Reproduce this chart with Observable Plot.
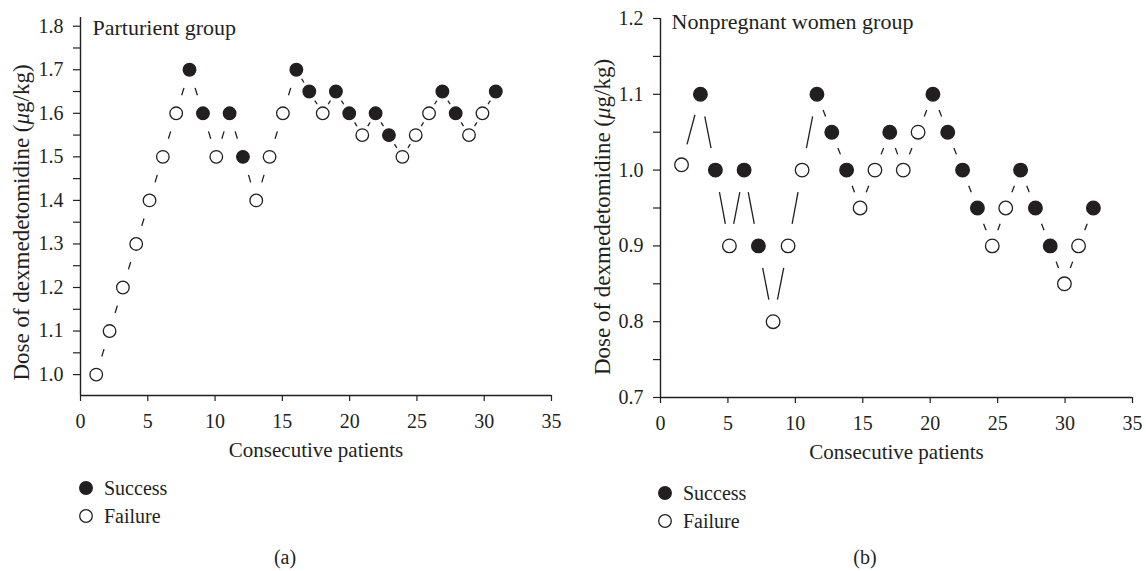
<!DOCTYPE html>
<html>
<head>
<meta charset="utf-8">
<script src="https://cdn.jsdelivr.net/npm/d3@7"></script>
<script src="https://cdn.jsdelivr.net/npm/@observablehq/plot@0.6"></script>
<style>
  html, body { margin: 0; padding: 0; background: #fff; }
  body { font-family: "Liberation Serif", "DejaVu Serif", serif; color: #231f20; }
  #wrap { position: relative; width: 1146px; height: 571px; overflow: hidden; background: #fff; }
  .panel { position: absolute; top: 0; }
  .legend { position: absolute; font-size: 20px; line-height: 28px; }
  .legend .row { display: flex; align-items: center; height: 28px; }
  .legend svg { margin-right: 10px; }
  .caption { position: absolute; font-size: 20px; transform: translateX(-50%); }
</style>
</head>
<body>
<div id="wrap"></div>
<script>
// ---------- Data: (a) Parturient group ----------
const patientsA = [1.17, 2.16, 3.15, 4.14, 5.13, 6.12, 7.11, 8.1, 9.1, 10.09, 11.08, 12.07, 13.06, 14.05, 15.04, 16.04,
  17.0, 18.0, 18.98, 19.97, 20.94, 21.93, 22.92, 23.92, 24.91, 25.9, 26.89, 27.88, 28.87, 29.87, 30.86];
const doseA = [1.0, 1.1, 1.2, 1.3, 1.4, 1.5, 1.6, 1.7, 1.6, 1.5, 1.6, 1.5, 1.4, 1.5, 1.6, 1.7,
  1.65, 1.6, 1.65, 1.6, 1.55, 1.6, 1.55, 1.5, 1.55, 1.6, 1.65, 1.6, 1.55, 1.6, 1.65];
const outcomeA = ["F","F","F","F","F","F","F","S","S","F","S","S","F","F","F","S",
  "S","F","S","S","F","S","S","F","F","F","S","S","F","F","S"];

// ---------- Data: (b) Nonpregnant women group ----------
const patientsB = [1.56, 2.96, 4.07, 5.11, 6.2, 7.26, 8.35, 9.46, 10.5, 11.6, 12.7, 13.8, 14.8, 15.9, 17.0,
  18.0, 19.1, 20.2, 21.3, 22.4, 23.5, 24.6, 25.6, 26.7, 27.8, 28.9, 29.95, 31.0, 32.1];
const doseB = [1.007, 1.1, 1.0, 0.9, 1.0, 0.9, 0.8, 0.9, 1.0, 1.1, 1.05, 1.0, 0.95, 1.0, 1.05,
  1.0, 1.05, 1.1, 1.05, 1.0, 0.95, 0.9, 0.95, 1.0, 0.95, 0.9, 0.85, 0.9, 0.95];
const outcomeB = ["F","S","S","F","S","S","F","F","F","S","S","S","F","F","S",
  "F","F","S","S","S","S","F","F","S","S","S","F","F","S"];

// ---------- Tick labels ----------
const xTicks = [0, 5, 10, 15, 20, 25, 30, 35];
const yTicksA = [1.0, 1.1, 1.2, 1.3, 1.4, 1.5, 1.6, 1.7, 1.8];
const yMinorA = [1.05, 1.15, 1.25, 1.35, 1.45, 1.55, 1.65, 1.75];
const yTicksB = [0.7, 0.8, 0.9, 1.0, 1.1, 1.2];
const yMinorB = [0.75, 0.85, 0.95, 1.05, 1.15];

// ---------- Texts ----------
const titleA = "Parturient group";
const titleB = "Nonpregnant women group";
const xLabel = "Consecutive patients";
const yLabel = "Dose of dexmedetomidine (μg/kg)";
const legendLabels = ["Success", "Failure"];
const captions = ["(a)", "(b)"];

const INK = "#231f20";

function rowsOf(xs, ys, os) {
  return xs.map((x, i) => ({ x, y: ys[i], outcome: os[i] }));
}
// connector segments: only the middle part of each segment is drawn
function linksOf(xs, ys, fracFn) {
  const out = [];
  for (let i = 0; i < xs.length - 1; i++) {
    const dx = xs[i + 1] - xs[i], dy = ys[i + 1] - ys[i];
    const f = fracFn(Math.abs(dy));
    const t0 = (1 - f) / 2, t1 = (1 + f) / 2;
    out.push({ x1: xs[i] + t0 * dx, y1: ys[i] + t0 * dy, x2: xs[i] + t1 * dx, y2: ys[i] + t1 * dy });
  }
  return out;
}

function italicMu(svg) {
  svg.querySelectorAll("text").forEach(t => {
    if (t.textContent === yLabel) {
      const parts = yLabel.split("μ");
      t.textContent = "";
      const NS = "http://www.w3.org/2000/svg";
      const a = document.createElementNS(NS, "tspan");
      a.textContent = parts[0];
      const m = document.createElementNS(NS, "tspan");
      m.textContent = "μ"; m.setAttribute("font-style", "italic");
      const b = document.createElementNS(NS, "tspan");
      b.textContent = parts[1];
      t.append(a, m, b);
    }
  });
}

function panel(cfg) {
  const rows = rowsOf(cfg.xs, cfg.ys, cfg.os);
  const links = linksOf(cfg.xs, cfg.ys, cfg.frac);
  const chart = Plot.plot({
    width: cfg.width, height: 470,
    marginLeft: cfg.ml, marginRight: cfg.mr, marginTop: cfg.mt, marginBottom: 470 - cfg.axisY,
    style: { fontFamily: "Liberation Serif, serif", fontSize: "20px", color: INK, background: "white", overflow: "visible" },
    x: { domain: [0, 35] },
    y: { domain: cfg.ydomain },
    marks: [
      Plot.axisX({ ticks: xTicks, tickSize: 6, tickPadding: 12, label: null, fontSize: 20, stroke: INK, strokeWidth: 1.2, fill: INK }),
      Plot.axisY({ ticks: cfg.yt, tickSize: 7, tickPadding: 10, tickFormat: ".1f", label: null, fontSize: 20, stroke: INK, strokeWidth: 1.2, fill: INK }),
      Plot.axisY({ ticks: cfg.ym, tickSize: 7, text: null, label: null, stroke: INK, strokeWidth: 1.2 }),
      Plot.ruleX([0], { stroke: INK, strokeWidth: 1.4 }),
      Plot.ruleY([cfg.ydomain[0]], { stroke: INK, strokeWidth: 1.4 }),
      Plot.link(links, { x1: "x1", y1: "y1", x2: "x2", y2: "y2", stroke: INK, strokeWidth: cfg.lw }),
      Plot.dot(rows, { x: "x", y: "y", r: cfg.r, fill: d => d.outcome === "S" ? INK : "white", stroke: INK, strokeWidth: 1.3 }),
      Plot.text([cfg.title], { frameAnchor: "top-left", textAnchor: "start", lineAnchor: "top", dx: cfg.tdx, dy: cfg.tdy, fontSize: 22, fill: INK }),
      Plot.text([xLabel], { frameAnchor: "bottom", lineAnchor: "bottom", dy: 61, fontSize: 21, fill: INK }),
      Plot.text([yLabel], { frameAnchor: "left", textAnchor: "middle", lineAnchor: "middle", rotate: -90, dx: cfg.ylx, dy: cfg.yly, fontSize: 23, fill: INK })
    ]
  });
  italicMu(chart);
  chart.classList.add("panel");
  chart.style.left = cfg.left + "px";
  return chart;
}

const wrap = document.getElementById("wrap");

wrap.append(panel({
  xs: patientsA, ys: doseA, os: outcomeA,
  frac: () => 0.17,
  width: 575, left: 0, ml: 80, mr: 24, mt: 17, axisY: 395,
  ydomain: [0.952, 1.82], yt: yTicksA, ym: yMinorA,
  r: 6.3, lw: 1.3,
  title: titleA, tdx: 12, tdy: 2,
  ylx: -59, yly: 16
}));

wrap.append(panel({
  xs: patientsB, ys: doseB, os: outcomeB,
  frac: ady => ady > 0.07 ? 0.42 : 0.17,
  width: 571, left: 575, ml: 85, mr: 14, mt: 18, axisY: 397,
  ydomain: [0.7, 1.2], yt: yTicksB, ym: yMinorB,
  r: 6.8, lw: 1.3,
  title: titleB, tdx: 11, tdy: -5,
  ylx: -58, yly: 9
}));

// ---------- Legends & captions ----------
function legend(left, top) {
  const div = document.createElement("div");
  div.className = "legend";
  div.style.left = left + "px";
  div.style.top = top + "px";
  legendLabels.forEach((lab, i) => {
    const row = document.createElement("div");
    row.className = "row";
    row.innerHTML = `<svg width="16" height="16" viewBox="0 0 16 16"><circle cx="8" cy="8" r="6.3" fill="${i === 0 ? INK : "white"}" stroke="${INK}" stroke-width="1.3"/></svg><span>${lab}</span>`;
    div.append(row);
  });
  return div;
}
wrap.append(legend(78, 474));
wrap.append(legend(657, 479));

[[285, captions[0]], [865, captions[1]]].forEach(([cx, txt]) => {
  const c = document.createElement("div");
  c.className = "caption";
  c.style.left = cx + "px";
  c.style.top = "546px";
  c.textContent = txt;
  wrap.append(c);
});
</script>
</body>
</html>
